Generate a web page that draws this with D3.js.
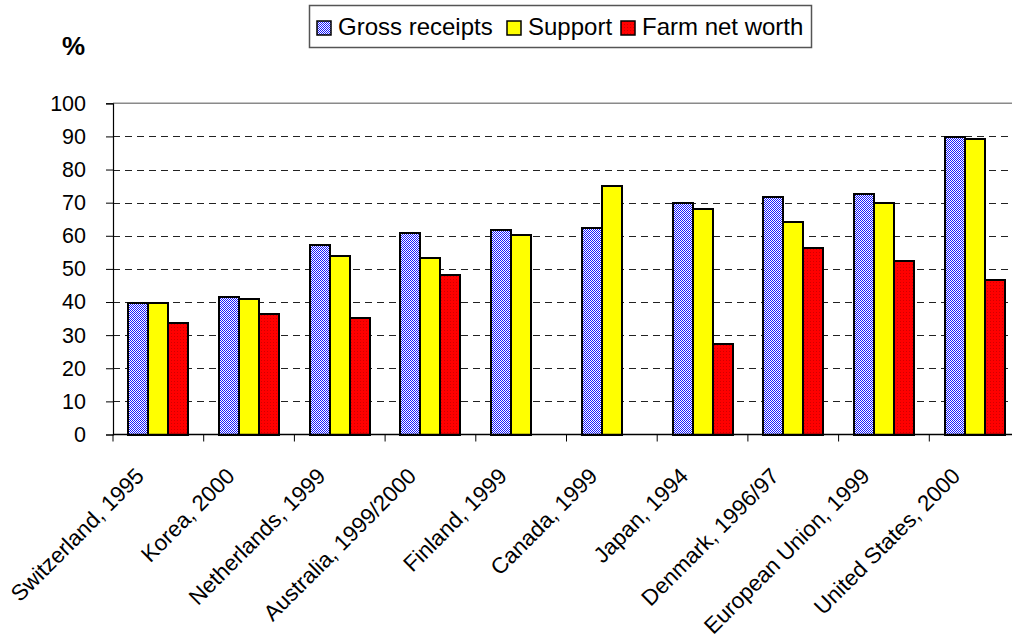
<!DOCTYPE html>
<html>
<head>
<meta charset="utf-8">
<script src="https://cdn.jsdelivr.net/npm/d3@7"></script>
<style>
  html, body { margin: 0; padding: 0; background: #fff; }
  svg { display: block; font-family: "Liberation Sans", Arial, sans-serif; }
</style>
</head>
<body>
<svg id="chart" width="1012" height="639"></svg>
<script>
const categories = ["Switzerland, 1995", "Korea, 2000", "Netherlands, 1999", "Australia, 1999/2000",
  "Finland, 1999", "Canada, 1999", "Japan, 1994", "Denmark, 1996/97", "European Union, 1999", "United States, 2000"];
const seriesNames = ["Gross receipts", "Support", "Farm net worth"];
const grossReceipts = [39.6, 41.6, 57.2, 60.9, 61.8, 62.4, 70.0, 71.7, 72.7, 89.8];
const support       = [39.8, 40.8, 53.8, 53.2, 60.1, 74.9, 68.1, 64.2, 69.8, 89.1];
const farmNetWorth  = [33.6, 36.5, 35.3, 48.2, null, null, 27.3, 56.4, 52.3, 46.6];
const yTicks = [0, 10, 20, 30, 40, 50, 60, 70, 80, 90, 100];

const seriesValues = [grossReceipts, support, farmNetWorth];
const fills = ["url(#blueChecker)", "#ffff00", "url(#redDots)"];

const svg = d3.select("#chart");
const defs = svg.append("defs");
const pb = defs.append("pattern").attr("id", "blueChecker").attr("patternUnits", "userSpaceOnUse")
  .attr("width", 2).attr("height", 2);
pb.append("rect").attr("width", 2).attr("height", 2).attr("fill", "#ffffff");
pb.append("rect").attr("width", 1).attr("height", 1).attr("fill", "#1a1aff");
pb.append("rect").attr("x", 1).attr("y", 1).attr("width", 1).attr("height", 1).attr("fill", "#1a1aff");
const pr = defs.append("pattern").attr("id", "redDots").attr("patternUnits", "userSpaceOnUse")
  .attr("width", 3).attr("height", 3);
pr.append("rect").attr("width", 3).attr("height", 3).attr("fill", "#ff0000");
pr.append("rect").attr("width", 1).attr("height", 1).attr("fill", "#d00000");

const mLeft = 113, mRight = 1020, mTop = 103.3, mBottom = 434.5;

const x0 = d3.scaleBand().domain(categories).range([mLeft, mRight]).padding(0);
const bw = x0.bandwidth();
const x1 = d3.scaleBand().domain(seriesNames).range([bw * 0.169, bw * 0.831]).padding(0);
const y = d3.scaleLinear().domain([0, 100]).range([mBottom, mTop]);

// gridlines
const grid = svg.append("g");
grid.selectAll("line.g").data(yTicks.filter(t => t > 0 && t < 100)).join("line")
  .attr("x1", mLeft).attr("x2", mRight)
  .attr("y1", d => Math.round(y(d)) + 0.5).attr("y2", d => Math.round(y(d)) + 0.5)
  .attr("stroke", "#222").attr("stroke-width", 1).attr("stroke-dasharray", "7,5");
grid.append("line").attr("x1", mLeft).attr("x2", mRight)
  .attr("y1", y(100)).attr("y2", y(100))
  .attr("stroke", "#8a8a8a").attr("stroke-width", 1.5);

// bars (absolute, pixel-aligned positions so the fill patterns stay crisp)
const barData = [];
categories.forEach((c, i) => seriesNames.forEach((s, j) => {
  const v = seriesValues[j][i];
  if (v != null) barData.push({ c, s, j, v });
}));
svg.append("g").selectAll("rect").data(barData).join("rect")
  .attr("x", d => Math.round(x0(d.c) + x1(d.s)))
  .attr("y", d => Math.round(y(d.v)))
  .attr("width", d => Math.round(x0(d.c) + x1(d.s) + x1.bandwidth()) - Math.round(x0(d.c) + x1(d.s)))
  .attr("height", d => Math.round(y(0)) - Math.round(y(d.v)))
  .attr("fill", d => fills[d.j])
  .attr("stroke", "#000").attr("stroke-width", 2);

// y axis
const yAxis = d3.axisLeft(y).tickValues(yTicks).tickSize(7).tickPadding(20).tickFormat(d3.format("d"));
const ya = svg.append("g").attr("transform", `translate(${mLeft},0)`).call(yAxis);
ya.select(".domain").attr("stroke", "#000").attr("stroke-width", 1.2);
ya.selectAll(".tick line").attr("stroke", "#000");
ya.selectAll(".tick text").attr("font-size", 21.5).attr("fill", "#000")
  .attr("font-family", "Liberation Sans, Arial, sans-serif");

// x axis line and boundary ticks
svg.append("line").attr("x1", mLeft).attr("x2", mRight).attr("y1", mBottom).attr("y2", mBottom)
  .attr("stroke", "#000").attr("stroke-width", 1.5);
const boundaries = categories.map(c => x0(c)).concat([mRight]);
svg.append("g").selectAll("line").data(boundaries).join("line")
  .attr("x1", d => d).attr("x2", d => d).attr("y1", mBottom).attr("y2", mBottom + 7)
  .attr("stroke", "#000").attr("stroke-width", 1);

// category labels
svg.append("g").selectAll("text").data(categories).join("text")
  .attr("transform", d => `translate(${x0(d) + bw / 2 - 13},${mBottom + 43}) rotate(-45)`)
  .attr("text-anchor", "end")
  .attr("font-size", 22.3)
  .attr("fill", "#000")
  .text(d => d);

// % label
svg.append("text").attr("x", 62).attr("y", 55).attr("font-size", 26).attr("font-weight", "bold")
  .attr("fill", "#000").text("%");

// legend
const lg = svg.append("g");
lg.append("rect").attr("x", 309.5).attr("y", 5.5).attr("width", 502).attr("height", 42)
  .attr("fill", "#fff").attr("stroke", "#555").attr("stroke-width", 1.5);
const legendX = [317, 507, 621];
seriesNames.forEach((s, j) => {
  lg.append("rect").attr("x", legendX[j]).attr("y", 21).attr("width", 14).attr("height", 14)
    .attr("fill", fills[j]).attr("stroke", "#000").attr("stroke-width", 1.5);
  lg.append("text").attr("x", legendX[j] + 21).attr("y", 34.5).attr("font-size", 24)
    .attr("fill", "#000").text(s);
});
</script>
</body>
</html>
